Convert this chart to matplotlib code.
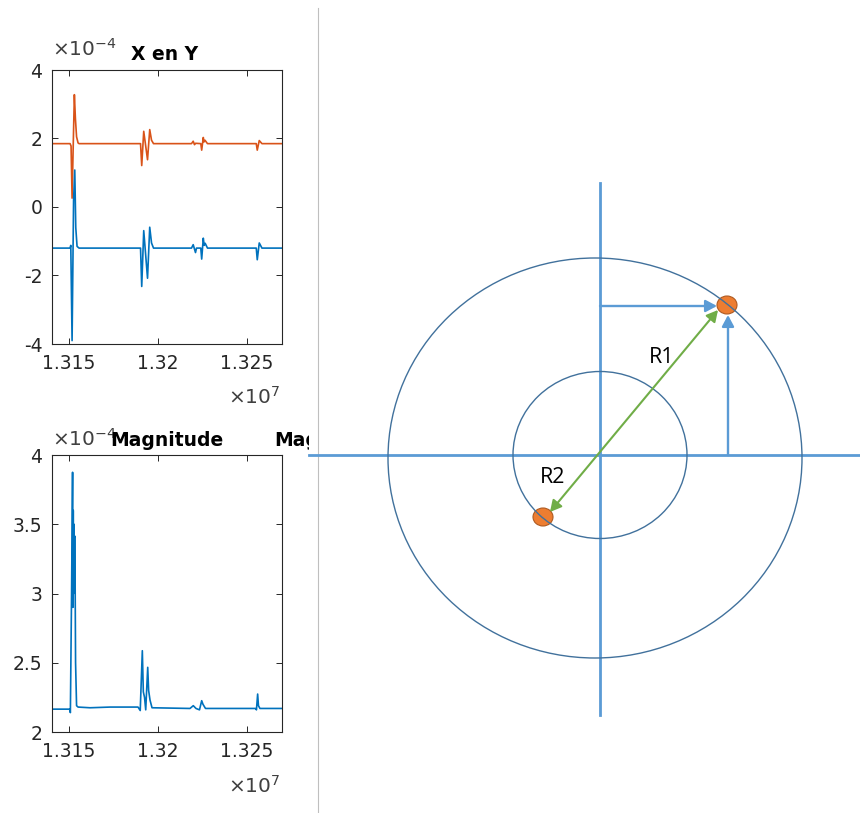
import matplotlib
matplotlib.use("Agg")
import matplotlib.pyplot as plt
from matplotlib.patches import Ellipse, FancyArrowPatch, Rectangle
from matplotlib.ticker import FuncFormatter

plt.rcParams['font.family'] = ['DejaVu Sans']
plt.rcParams['mathtext.fontset'] = 'dejavusans'

# ---------------- signal data ----------------
# X component (orange)
x_freq = [13140450, 13150560, 13151120, 13151690, 13152420, 13152980, 13153540,
          13154210, 13155060, 13155620,
          13190170, 13190840, 13191970, 13194100, 13195340, 13196350, 13197470,
          13218820, 13219780, 13220510, 13221070, 13224050, 13224550, 13225450,
          13225840, 13226400, 13227810,
          13255230, 13255790, 13256910, 13258430, 13269660]
x_vals = [1.85e-4, 1.85e-4, 1.78e-4, 0.26e-4, 2.0e-4, 3.28e-4, 2.6e-4,
          2.05e-4, 1.87e-4, 1.85e-4,
          1.85e-4, 1.21e-4, 2.21e-4, 1.38e-4, 2.26e-4, 1.95e-4, 1.85e-4,
          1.85e-4, 1.92e-4, 1.82e-4, 1.86e-4, 1.85e-4, 1.66e-4, 2.03e-4,
          1.90e-4, 1.95e-4, 1.85e-4,
          1.85e-4, 1.66e-4, 1.94e-4, 1.85e-4, 1.85e-4]

# Y component (blue)
y_freq = [13140450, 13150560, 13150960, 13151690, 13152530, 13153200, 13153760,
          13154490, 13155620,
          13190170, 13190840, 13191970, 13194100, 13195340, 13196350, 13197470,
          13218820, 13219780, 13221070, 13221630, 13224050, 13224550, 13225450,
          13225960, 13226520, 13227810,
          13255230, 13255790, 13256910, 13258430, 13269660]
y_vals = [-1.2e-4, -1.2e-4, -1.12e-4, -3.9e-4, 0.2e-4, 1.08e-4, -0.6e-4,
          -1.15e-4, -1.2e-4,
          -1.2e-4, -2.32e-4, -0.69e-4, -2.08e-4, -0.59e-4, -1.05e-4, -1.2e-4,
          -1.2e-4, -1.1e-4, -1.33e-4, -1.2e-4, -1.2e-4, -1.52e-4, -0.91e-4,
          -1.12e-4, -1.06e-4, -1.2e-4,
          -1.2e-4, -1.54e-4, -1.05e-4, -1.2e-4, -1.2e-4]

# Magnitude (blue)
mag_freq = [13140450, 13150280, 13150730, 13151400, 13151970, 13152150, 13152350,
            13152580, 13152750, 13152870, 13153050, 13153200, 13153400, 13153650,
            13154210, 13155060, 13161800, 13173030,
            13188760, 13190000, 13191180, 13191740, 13192420, 13193090, 13194210,
            13194720, 13195510, 13196630, 13217980, 13219830, 13221350, 13223320,
            13224550, 13225280, 13226690, 13254780, 13255340, 13256010, 13256460,
            13257300, 13269660]
mag_vals = [2.165e-4, 2.165e-4, 2.14e-4, 3.0e-4, 3.875e-4, 2.9e-4, 3.6e-4,
            3.0e-4, 3.5e-4, 3.05e-4, 3.4e-4, 3.415e-4, 3.1e-4, 2.5e-4,
            2.19e-4, 2.18e-4, 2.175e-4, 2.18e-4,
            2.18e-4, 2.155e-4, 2.587e-4, 2.29e-4, 2.25e-4, 2.16e-4, 2.467e-4,
            2.30e-4, 2.23e-4, 2.175e-4, 2.17e-4, 2.19e-4, 2.17e-4, 2.16e-4,
            2.226e-4, 2.2e-4, 2.17e-4, 2.17e-4, 2.16e-4, 2.274e-4, 2.19e-4,
            2.17e-4, 2.17e-4]

freq_ticks = [13150000, 13200000, 13250000]
xy_ticks = [-4e-4, -2e-4, 0, 2e-4, 4e-4]
mag_ticks = [2e-4, 2.5e-4, 3e-4, 3.5e-4, 4e-4]

# ---------------- diagram geometry (pixel units) ----------------
origin = (600, 455)
outer_center, outer_size = (595, 458), (414, 400)
inner_center, inner_size = (600, 455), (174, 167)
point_r1 = (727, 305)
point_r2 = (543, 517)

W, H = 860, 813
fig = plt.figure(figsize=(W / 100, H / 100), dpi=100)
fig.patch.set_facecolor('white')

AX_COLOR = '#262626'
ORANGE = '#D95319'
BLUE = '#0072BD'


def fx(px):
    return px / W


def fy(py):
    return 1 - py / H


def style_axes(ax):
    for s in ax.spines.values():
        s.set_color(AX_COLOR)
        s.set_linewidth(0.8)
    ax.tick_params(direction='in', length=4, width=0.7, top=True, right=True,
                   labelsize=13.5, colors=AX_COLOR, pad=7)
    ax.set_xticks(freq_ticks)
    ax.xaxis.set_major_formatter(FuncFormatter(lambda v, p: f"{v / 1e7:g}"))
    ax.yaxis.set_major_formatter(FuncFormatter(lambda v, p: f"{v / 1e-4:g}"))
    ax.set_xlim(13140400, 13269700)


# top panel: X en Y
ax1 = fig.add_axes([fx(52), fy(344), fx(282) - fx(52), fy(70) - fy(344)])
ax1.plot(x_freq, x_vals, color=ORANGE, lw=1.2)
ax1.plot(y_freq, y_vals, color=BLUE, lw=1.2)
style_axes(ax1)
ax1.set_yticks(xy_ticks)
ax1.set_ylim(-4e-4, 4e-4)

# bottom panel: Magnitude
ax2 = fig.add_axes([fx(52), fy(732), fx(282) - fx(52), fy(455) - fy(732)])
ax2.plot(mag_freq, mag_vals, color=BLUE, lw=1.2)
style_axes(ax2)
ax2.set_yticks(mag_ticks)
ax2.set_ylim(2e-4, 4e-4)

# exponent labels and titles
EXP_SIZE = 14.5
EXP_COLOR = '#404040'
fig.text(fx(52), fy(56), r'$\times10^{-4}$', fontsize=EXP_SIZE, color=EXP_COLOR,
         ha='left', va='baseline')
fig.text(fx(280), fy(404), r'$\times10^{7}$', fontsize=EXP_SIZE, color=EXP_COLOR,
         ha='right', va='baseline')
fig.text(fx(52), fy(446), r'$\times10^{-4}$', fontsize=EXP_SIZE, color=EXP_COLOR,
         ha='left', va='baseline')
fig.text(fx(280), fy(793), r'$\times10^{7}$', fontsize=EXP_SIZE, color=EXP_COLOR,
         ha='right', va='baseline')
fig.text(fx(165), fy(60), 'X en Y', fontsize=13.5, fontweight='bold',
         color='black', ha='center', va='baseline', zorder=10)
fig.text(fx(167), fy(446), 'Magnitude', fontsize=13.5, fontweight='bold',
         color='black', ha='center', va='baseline', zorder=10)

# ---------------- diagram ----------------
axd = fig.add_axes([0, 0, 1, 1], zorder=5)
axd.set_xlim(0, W)
axd.set_ylim(H, 0)
axd.axis('off')
axd.patch.set_alpha(0)

# neighbouring panel title, cut off at the panel edge
mag_cut = axd.text(274, 446, 'Magnitude', fontsize=13.5, fontweight='bold',
                   color='black', ha='left', va='baseline', clip_on=True)
mag_cut.set_clip_path(Rectangle((0, 0), 309, H, transform=axd.transData))

AXIS_BLUE = '#5B9BD5'
CIRCLE_BLUE = '#41719C'

# separator
axd.plot([318, 318], [8, H], color='#BFBFBF', lw=0.8, zorder=1)

# coordinate axes
axd.plot([309, W], [origin[1], origin[1]], color=AXIS_BLUE, lw=2.0, zorder=2)
axd.plot([origin[0], origin[0]], [183, 715], color=AXIS_BLUE, lw=2.0, zorder=2)

# points
for p in (point_r1, point_r2):
    axd.add_patch(Ellipse(p, 20, 18, facecolor='#ED7D31', edgecolor='#AE5A21',
                          lw=0.8, zorder=3))

# circles
axd.add_patch(Ellipse(outer_center, *outer_size, fill=False,
                      edgecolor=CIRCLE_BLUE, lw=1.0, zorder=4))
axd.add_patch(Ellipse(inner_center, *inner_size, fill=False,
                      edgecolor=CIRCLE_BLUE, lw=1.0, zorder=4))

# projection arrows
axd.add_patch(FancyArrowPatch((origin[0], point_r1[1] + 1), (point_r1[0] - 10, point_r1[1] + 1),
                              arrowstyle='-|>,head_length=0.45,head_width=0.24',
                              mutation_scale=15, color=AXIS_BLUE, lw=1.7,
                              shrinkA=0, shrinkB=0, zorder=5))
axd.add_patch(FancyArrowPatch((point_r1[0] + 1, origin[1]), (point_r1[0] + 1, point_r1[1] + 10),
                              arrowstyle='-|>,head_length=0.45,head_width=0.24',
                              mutation_scale=15, color=AXIS_BLUE, lw=1.7,
                              shrinkA=0, shrinkB=0, zorder=5))

# radius arrow
axd.add_patch(FancyArrowPatch((point_r2[0] + 7, point_r2[1] - 5), (point_r1[0] - 9, point_r1[1] + 5),
                              arrowstyle='<|-|>,head_length=0.45,head_width=0.24',
                              mutation_scale=15, color='#70AD47', lw=1.5,
                              shrinkA=0, shrinkB=0, zorder=5))

axd.text(662, 357, 'R1', fontsize=15.5, family='Open Sans', ha='center',
         va='center', color='black', zorder=6)
axd.text(553, 477, 'R2', fontsize=15.5, family='Open Sans', ha='center',
         va='center', color='black', zorder=6)

fig.savefig('out.png', dpi=100, facecolor='white')
